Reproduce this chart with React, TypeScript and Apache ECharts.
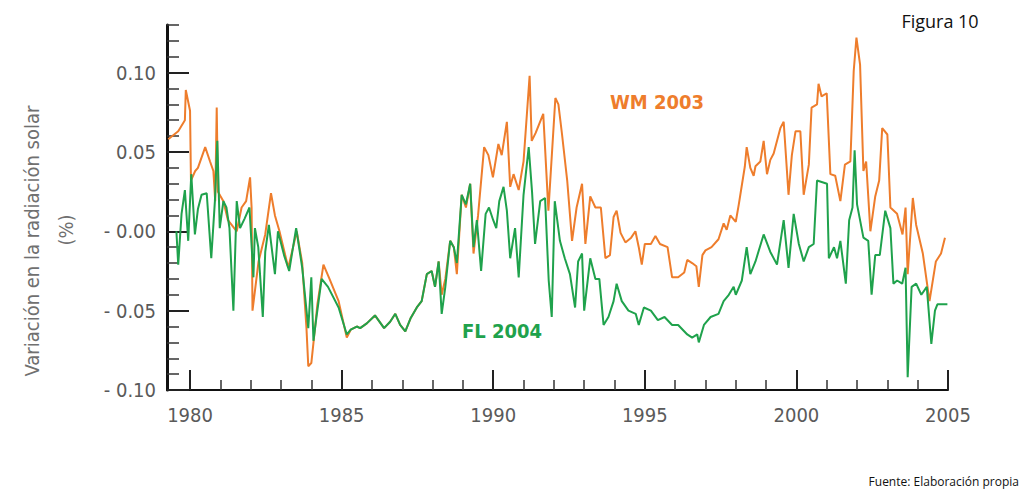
import React, { useEffect, useRef } from "react";
import * as echarts from "echarts";

// WM 2003 series: [year, variation %]
const wm2003: [number, number][] = [
  [1979.28, 0.058], [1979.61, 0.063], [1979.83, 0.07], [1979.86, 0.089], [1980.0, 0.076],
  [1980.03, 0.032], [1980.17, 0.038], [1980.26, 0.04], [1980.5, 0.053], [1980.66, 0.044],
  [1980.77, 0.038], [1980.83, 0.019], [1980.88, 0.078], [1980.92, 0.025], [1981.1, 0.019],
  [1981.25, 0.007], [1981.54, 0.0], [1981.7, 0.015], [1981.85, 0.019], [1981.98, 0.034],
  [1982.03, 0.015], [1982.06, -0.05], [1982.26, -0.019], [1982.48, -0.002], [1982.67, 0.024],
  [1982.8, 0.01], [1982.95, 0.0], [1983.24, -0.023], [1983.52, 0.0], [1983.7, -0.02],
  [1983.84, -0.061], [1983.9, -0.085], [1984.0, -0.083], [1984.1, -0.065], [1984.2, -0.046],
  [1984.4, -0.021], [1984.6, -0.03], [1984.9, -0.044], [1985.17, -0.067], [1985.3, -0.062],
  [1985.5, -0.06], [1985.61, -0.061], [1985.83, -0.058], [1986.1, -0.053], [1986.4, -0.061],
  [1986.6, -0.057], [1986.77, -0.052], [1986.93, -0.059], [1987.1, -0.063], [1987.27, -0.055],
  [1987.48, -0.048], [1987.64, -0.044], [1987.81, -0.027], [1987.97, -0.025], [1988.08, -0.035],
  [1988.2, -0.019], [1988.3, -0.04], [1988.42, -0.03], [1988.58, -0.006], [1988.7, -0.01],
  [1988.8, -0.027], [1988.96, 0.023], [1989.1, 0.015], [1989.24, 0.03], [1989.35, -0.014],
  [1989.5, 0.01], [1989.7, 0.053], [1989.84, 0.048], [1989.99, 0.034], [1990.17, 0.055],
  [1990.28, 0.048], [1990.45, 0.069], [1990.56, 0.028], [1990.67, 0.036], [1990.84, 0.026],
  [1991.0, 0.044], [1991.2, 0.098], [1991.27, 0.057], [1991.4, 0.062], [1991.65, 0.074],
  [1991.82, 0.013], [1992.05, 0.084], [1992.15, 0.08], [1992.27, 0.061], [1992.44, 0.032],
  [1992.6, -0.006], [1992.75, 0.015], [1992.93, 0.03], [1993.04, -0.008], [1993.2, 0.022],
  [1993.37, 0.015], [1993.55, 0.015], [1993.7, -0.017], [1993.85, -0.015], [1993.97, 0.009],
  [1994.07, 0.013], [1994.2, -0.001], [1994.36, -0.007], [1994.55, -0.004], [1994.69, 0.0],
  [1994.8, -0.01], [1994.9, -0.021], [1995.0, -0.008], [1995.2, -0.008], [1995.35, -0.003],
  [1995.5, -0.008], [1995.75, -0.01], [1995.9, -0.029], [1996.1, -0.029], [1996.3, -0.026],
  [1996.4, -0.018], [1996.56, -0.02], [1996.7, -0.022], [1996.78, -0.035], [1996.9, -0.015],
  [1997.0, -0.012], [1997.2, -0.01], [1997.43, -0.005], [1997.6, 0.005], [1997.7, 0.001],
  [1997.82, 0.01], [1998.0, 0.006], [1998.1, 0.017], [1998.3, 0.041], [1998.36, 0.053],
  [1998.48, 0.04], [1998.59, 0.035], [1998.65, 0.041], [1998.81, 0.044], [1998.92, 0.057],
  [1999.03, 0.036], [1999.14, 0.045], [1999.25, 0.049], [1999.47, 0.065], [1999.58, 0.069],
  [1999.74, 0.023], [1999.85, 0.048], [1999.97, 0.063], [2000.13, 0.063], [2000.24, 0.023],
  [2000.41, 0.042], [2000.5, 0.078], [2000.68, 0.08], [2000.73, 0.093], [2000.83, 0.085],
  [2001.0, 0.087], [2001.12, 0.036], [2001.28, 0.035], [2001.45, 0.019], [2001.6, 0.042],
  [2001.78, 0.044], [2001.89, 0.101], [2001.98, 0.122], [2002.1, 0.105], [2002.21, 0.038],
  [2002.3, 0.044], [2002.44, 0.0], [2002.6, 0.022], [2002.73, 0.032], [2002.83, 0.065],
  [2003.0, 0.061], [2003.1, 0.015], [2003.32, 0.011], [2003.5, -0.002], [2003.6, 0.015],
  [2003.67, -0.027], [2003.84, 0.021], [2003.95, 0.004], [2004.17, -0.014], [2004.39, -0.044],
  [2004.6, -0.019], [2004.77, -0.014], [2004.9, -0.004],
];

// FL 2004 series: [year, variation %]
const fl2004: [number, number][] = [
  [1979.55, 0.0], [1979.61, -0.021], [1979.72, 0.011], [1979.83, 0.026], [1979.94, -0.006],
  [1980.04, 0.036], [1980.16, -0.002], [1980.26, 0.014], [1980.38, 0.023], [1980.55, 0.024],
  [1980.7, -0.017], [1980.82, 0.019], [1980.9, 0.057], [1980.98, 0.002], [1981.1, 0.019],
  [1981.2, 0.015], [1981.3, 0.002], [1981.43, -0.05], [1981.54, 0.019], [1981.65, 0.002],
  [1981.8, 0.008], [1981.96, 0.015], [1982.09, -0.029], [1982.14, 0.002], [1982.25, -0.01],
  [1982.4, -0.054], [1982.48, -0.013], [1982.6, 0.004], [1982.8, -0.027], [1982.9, 0.0],
  [1983.1, -0.015], [1983.27, -0.025], [1983.5, 0.002], [1983.7, -0.023], [1983.9, -0.061],
  [1984.0, -0.029], [1984.07, -0.069], [1984.17, -0.054], [1984.34, -0.03], [1984.55, -0.035],
  [1984.9, -0.048], [1985.17, -0.065], [1985.3, -0.062], [1985.5, -0.06], [1985.61, -0.061],
  [1985.83, -0.058], [1986.1, -0.053], [1986.4, -0.061], [1986.6, -0.057], [1986.77, -0.052],
  [1986.93, -0.059], [1987.1, -0.063], [1987.27, -0.055], [1987.48, -0.048], [1987.64, -0.044],
  [1987.81, -0.027], [1987.97, -0.025], [1988.08, -0.035], [1988.2, -0.019], [1988.3, -0.052],
  [1988.42, -0.035], [1988.58, -0.006], [1988.7, -0.01], [1988.8, -0.02], [1988.96, 0.023],
  [1989.1, 0.017], [1989.24, 0.03], [1989.35, -0.01], [1989.46, 0.007], [1989.6, -0.025],
  [1989.75, 0.011], [1989.86, 0.015], [1990.0, 0.007], [1990.1, 0.002], [1990.2, 0.019],
  [1990.34, 0.028], [1990.45, 0.013], [1990.56, -0.017], [1990.72, 0.002], [1990.84, -0.029],
  [1991.0, 0.023], [1991.17, 0.053], [1991.28, 0.025], [1991.38, -0.008], [1991.55, 0.019],
  [1991.71, 0.021], [1991.83, -0.031], [1991.93, -0.054], [1992.03, 0.019], [1992.2, -0.006],
  [1992.36, -0.017], [1992.53, -0.027], [1992.7, -0.048], [1992.8, -0.019], [1992.93, -0.014],
  [1993.0, -0.05], [1993.2, -0.017], [1993.37, -0.03], [1993.5, -0.03], [1993.64, -0.059],
  [1993.8, -0.054], [1993.97, -0.044], [1994.07, -0.033], [1994.24, -0.044], [1994.46, -0.05],
  [1994.7, -0.052], [1994.8, -0.059], [1994.97, -0.048], [1995.2, -0.05], [1995.43, -0.056],
  [1995.65, -0.054], [1995.9, -0.059], [1996.1, -0.059], [1996.4, -0.065], [1996.56, -0.067],
  [1996.73, -0.065], [1996.78, -0.07], [1996.95, -0.059], [1997.17, -0.054], [1997.43, -0.052],
  [1997.6, -0.044], [1997.77, -0.04], [1997.93, -0.035], [1998.0, -0.04], [1998.2, -0.031],
  [1998.36, -0.01], [1998.48, -0.027], [1998.65, -0.019], [1998.92, -0.002], [1999.14, -0.013],
  [1999.36, -0.021], [1999.58, 0.007], [1999.74, -0.023], [1999.91, 0.011], [2000.08, -0.008],
  [2000.24, -0.019], [2000.41, -0.01], [2000.57, -0.008], [2000.68, 0.032], [2001.01, 0.03],
  [2001.07, -0.017], [2001.24, -0.01], [2001.34, -0.017], [2001.45, -0.006], [2001.63, -0.033],
  [2001.74, 0.007], [2001.85, 0.015], [2001.92, 0.051], [2002.0, 0.017], [2002.21, -0.004],
  [2002.37, -0.006], [2002.48, -0.04], [2002.6, -0.015], [2002.75, -0.015], [2002.93, 0.013],
  [2003.1, 0.002], [2003.2, -0.033], [2003.32, -0.031], [2003.49, -0.033], [2003.6, -0.023],
  [2003.67, -0.092], [2003.8, -0.035], [2003.95, -0.033], [2004.12, -0.04], [2004.3, -0.035],
  [2004.45, -0.071], [2004.57, -0.05], [2004.65, -0.046], [2004.98, -0.046],
];

const xLabelYears = [1980, 1985, 1990, 1995, 2000, 2005];
const xMinorYears = [
  1980, 1981, 1982, 1983, 1984, 1985, 1986, 1987, 1988, 1989, 1990, 1991, 1992,
  1993, 1994, 1995, 1996, 1997, 1998, 1999, 2000, 2001, 2002, 2003, 2004, 2005,
];
const yLabelValues = [-0.1, -0.05, 0, 0.05, 0.1];
const yMinorValues = [
  -0.1, -0.09, -0.08, -0.07, -0.06, -0.05, -0.04, -0.03, -0.02, -0.01, 0,
  0.01, 0.02, 0.03, 0.04, 0.05, 0.06, 0.07, 0.08, 0.09, 0.1, 0.11, 0.12, 0.13,
];

const ORANGE = "#ee7d2c";
const GREEN = "#1fa24c";
const NARROW = "'Liberation Sans Narrow', 'DejaVu Sans Condensed', 'Open Sans', sans-serif";
const LABEL_GRAY = "#5a5a5a";

export default function App() {
  const ref = useRef<HTMLDivElement>(null);
  useEffect(() => {
    if (!ref.current) return;
    const chart = echarts.init(ref.current, null, { renderer: "svg" });
    const xMin = 1979.24;
    const xMax = 2005;
    chart.setOption({
      animation: false,
      backgroundColor: "#ffffff",
      grid: { left: 167, right: 81, top: 25, bottom: 100, containLabel: false },
      xAxis: [
        {
          type: "value",
          min: xMin,
          max: xMax,
          position: "bottom",
          axisLine: { show: true, onZero: false, lineStyle: { color: "#111", width: 2 } },
          axisTick: { show: true, inside: true, length: 10, customValues: xMinorYears, lineStyle: { color: "#333", width: 1.5 } },
          axisLabel: {
            customValues: xLabelYears,
            color: LABEL_GRAY,
            fontSize: 20,
            fontFamily: NARROW,
            margin: 15,
            formatter: (v: number) => String(Math.round(v)),
          },
          splitLine: { show: false },
        },
        {
          type: "value",
          min: xMin,
          max: xMax,
          position: "bottom",
          axisLine: { show: false, onZero: false },
          axisTick: { show: true, inside: true, length: 20, customValues: xLabelYears, lineStyle: { color: "#222", width: 2 } },
          axisLabel: { show: false },
          splitLine: { show: false },
        },
      ],
      yAxis: [
        {
          type: "value",
          min: -0.1,
          max: 0.13,
          axisLine: { show: true, onZero: false, lineStyle: { color: "#111", width: 3 } },
          axisTick: { show: true, inside: true, length: 12, customValues: yMinorValues, lineStyle: { color: "#333", width: 1.5 } },
          axisLabel: {
            customValues: yLabelValues,
            color: LABEL_GRAY,
            fontSize: 20,
            fontFamily: NARROW,
            margin: 11,
            formatter: (v: number) => (v > 0.001 ? v.toFixed(2) : "- " + Math.abs(v).toFixed(2)),
          },
          splitLine: { show: false },
        },
        {
          type: "value",
          min: -0.1,
          max: 0.13,
          position: "left",
          axisLine: { show: false, onZero: false },
          axisTick: { show: true, inside: true, length: 22, customValues: yLabelValues, lineStyle: { color: "#222", width: 2 } },
          axisLabel: { show: false },
          splitLine: { show: false },
        },
      ],
      series: [
        {
          name: "WM 2003",
          type: "line",
          data: wm2003,
          xAxisIndex: 0,
          yAxisIndex: 0,
          showSymbol: false,
          lineStyle: { color: ORANGE, width: 2 },
          itemStyle: { color: ORANGE },
          z: 2,
        },
        {
          name: "FL 2004",
          type: "line",
          data: fl2004,
          xAxisIndex: 0,
          yAxisIndex: 0,
          showSymbol: false,
          lineStyle: { color: GREEN, width: 2 },
          itemStyle: { color: GREEN },
          z: 3,
        },
      ],
      graphic: [
        {
          type: "text",
          x: 32,
          y: 241,
          rotation: Math.PI / 2,
          style: { text: "Variación en la radiación solar", fontSize: 20, fontFamily: NARROW, fill: "#707070", align: "center", verticalAlign: "middle" },
        },
        {
          type: "text",
          x: 66,
          y: 230,
          rotation: Math.PI / 2,
          style: { text: "(%)", fontSize: 20, fontFamily: NARROW, fill: "#707070", align: "center", verticalAlign: "middle" },
        },
        {
          type: "text",
          x: 657,
          y: 102,
          style: { text: "WM 2003", fontSize: 20, fontWeight: "bold", fontFamily: NARROW, fill: ORANGE, align: "center", verticalAlign: "middle" },
        },
        {
          type: "text",
          x: 502,
          y: 331,
          style: { text: "FL 2004", fontSize: 20, fontWeight: "bold", fontFamily: NARROW, fill: GREEN, align: "center", verticalAlign: "middle" },
        },
        {
          type: "text",
          x: 940,
          y: 21,
          style: { text: "Figura 10", fontSize: 18, fontFamily: "'Open Sans', 'Noto Sans', sans-serif", fill: "#111", align: "center", verticalAlign: "middle" },
        },
        {
          type: "text",
          x: 1019,
          y: 481,
          style: { text: "Fuente: Elaboración propia", fontSize: 12, fontFamily: "'Open Sans', 'Noto Sans', sans-serif", fill: "#111", align: "right", verticalAlign: "middle" },
        },
      ],
    });
    return () => chart.dispose();
  }, []);
  return <div ref={ref} style={{ position: "fixed", left: 0, top: 0, width: 1029, height: 490 }} />;
}
